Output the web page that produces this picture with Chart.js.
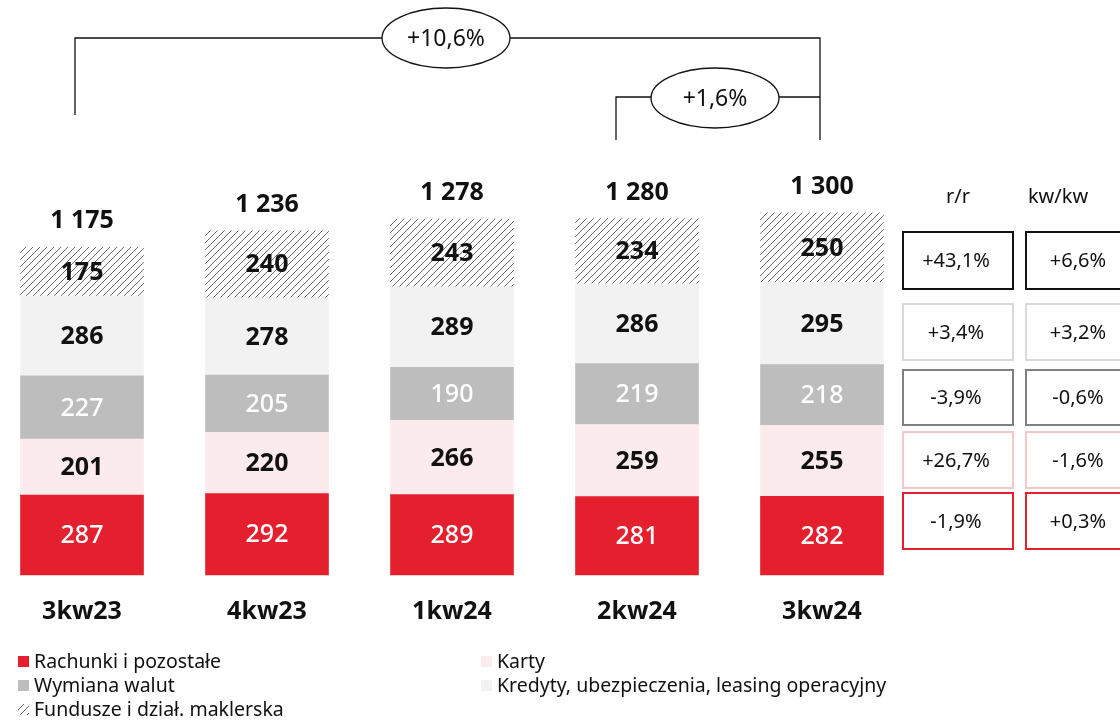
<!DOCTYPE html>
<html>
<head>
<meta charset="utf-8">
<script src="https://cdn.jsdelivr.net/npm/chart.js@4.4.1/dist/chart.umd.min.js"></script>
<style>
  html, body { margin: 0; background: #fff; }
  #wrap { width: 1120px; height: 720px; }
</style>
</head>
<body>
<div id="wrap"><canvas id="myChart"></canvas></div>
<script>
const quarters = ['3kw23', '4kw23', '1kw24', '2kw24', '3kw24'];
const rachunki = [287, 292, 289, 281, 282];
const karty = [201, 220, 266, 259, 255];
const wymiana = [227, 205, 190, 219, 218];
const kredyty = [286, 278, 289, 286, 295];
const fundusze = [175, 240, 243, 234, 250];
const totals = ['1 175', '1 236', '1 278', '1 280', '1 300'];
const rrChange = ['+43,1%', '+3,4%', '-3,9%', '+26,7%', '-1,9%'];
const kwChange = ['+6,6%', '+3,2%', '-0,6%', '-1,6%', '+0,3%'];
const yearChange = '+10,6%';
const quarterChange = '+1,6%';

const RED = '#e4202f';
const PINK = '#fcebec';
const GREY = '#bdbdbd';
const LIGHT = '#f2f2f2';
const FONT = '"Noto Sans", "DejaVu Sans", sans-serif';

// hatch for the funds segment
function makeHatch() {
  const c = document.createElement('canvas');
  c.width = 7; c.height = 7;
  const g = c.getContext('2d');
  g.fillStyle = '#fff';
  g.fillRect(0, 0, 7, 7);
  g.strokeStyle = '#6a6a6a';
  g.lineWidth = 1;
  g.beginPath();
  g.moveTo(-1, 8); g.lineTo(8, -1);
  g.moveTo(-1, 1); g.lineTo(1, -1);
  g.moveTo(6, 8); g.lineTo(8, 6);
  g.stroke();
  return g.createPattern(c, 'repeat');
}
const hatch = makeHatch();

const ctx = document.getElementById('myChart');

const extras = {
  id: 'extras',
  afterDatasetsDraw(chart) {
    const c = chart.ctx;
    const xs = chart.scales.x;
    c.save();

    // values inside segments
    chart.data.datasets.forEach((ds, di) => {
      const meta = chart.getDatasetMeta(di);
      meta.data.forEach((bar, i) => {
        const white = di === 0 || di === 2;
        c.font = (white ? '500 ' : 'bold ') + '25px ' + FONT;
        c.fillStyle = white ? '#fff' : '#111';
        c.textAlign = 'center';
        c.textBaseline = 'middle';
        c.fillText(ds.data[i], bar.x, (bar.y + bar.base) / 2 + 1);
      });
    });

    // totals above bars
    const top = chart.getDatasetMeta(chart.data.datasets.length - 1);
    c.font = 'bold 25px ' + FONT;
    c.fillStyle = '#111';
    top.data.forEach((bar, i) => {
      c.fillText(totals[i], bar.x, bar.y - 26);
    });

    // brackets with growth ellipses
    c.strokeStyle = '#111';
    c.lineWidth = 1.3;
    const xL = xs.getPixelForValue(0) - 7;
    const xR = xs.getPixelForValue(4) - 2;
    const xM = xs.getPixelForValue(3) - 21;
    c.beginPath();
    c.moveTo(xL, 115); c.lineTo(xL, 38); c.lineTo(xR, 38); c.lineTo(xR, 140);
    c.moveTo(xM, 140); c.lineTo(xM, 97); c.lineTo(xR, 97);
    c.stroke();
    function bubble(x, y, txt) {
      c.beginPath();
      c.ellipse(x, y, 64, 30, 0, 0, Math.PI * 2);
      c.fillStyle = '#fff';
      c.fill();
      c.stroke();
      c.fillStyle = '#111';
      c.font = '23px ' + FONT;
      c.fillText(txt, x, y + 1);
    }
    bubble(446, 38, yearChange);
    bubble(715, 98, quarterChange);

    // change table on the right
    c.font = '20px ' + FONT;
    c.fillStyle = '#111';
    c.fillText('r/r', 958, 197);
    c.fillText('kw/kw', 1058, 197);
    const rows = [[232, 289], [304, 360], [370, 425], [432, 488], [493, 549]];
    const borders = ['#111', '#d9d9d9', '#808080', '#f7c6ca', RED];
    rows.forEach((r, i) => {
      c.strokeStyle = borders[i];
      c.lineWidth = 2;
      c.strokeRect(903, r[0], 110, r[1] - r[0]);
      c.strokeRect(1026, r[0], 110, r[1] - r[0]);
      c.fillStyle = '#111';
      c.fillText(rrChange[i], 956, (r[0] + r[1]) / 2 + 1);
      c.fillText(kwChange[i], 1078, (r[0] + r[1]) / 2 + 1);
    });

    // legend
    c.font = '19.5px ' + FONT;
    c.textAlign = 'left';
    const leg = [
      [18, 661, RED, 'Rachunki i pozostałe'],
      [18, 685, GREY, 'Wymiana walut'],
      [18, 709, hatch, 'Fundusze i dział. maklerska'],
      [481, 661, PINK, 'Karty'],
      [481, 685, LIGHT, 'Kredyty, ubezpieczenia, leasing operacyjny']
    ];
    leg.forEach(l => {
      c.fillStyle = l[2];
      c.fillRect(l[0], l[1] - 5, 11, 11);
      c.fillStyle = '#111';
      c.fillText(l[3], l[0] + 16, l[1] + 1);
    });

    c.restore();
  }
};

new Chart(ctx, {
  type: 'bar',
  data: {
    labels: quarters,
    datasets: [
      { label: 'Rachunki i pozostałe', data: rachunki, backgroundColor: RED },
      { label: 'Karty', data: karty, backgroundColor: PINK },
      { label: 'Wymiana walut', data: wymiana, backgroundColor: GREY },
      { label: 'Kredyty, ubezpieczenia, leasing operacyjny', data: kredyty, backgroundColor: LIGHT },
      { label: 'Fundusze i dział. maklerska', data: fundusze, backgroundColor: hatch }
    ]
  },
  options: {
    responsive: true,
    maintainAspectRatio: false,
    animation: false,
    layout: {
      padding: { left: 82, right: 298, top: 157, bottom: 71 }
    },
    datasets: {
      bar: { barThickness: 123, clip: false, borderWidth: 0 }
    },
    plugins: {
      legend: { display: false },
      tooltip: { enabled: false }
    },
    scales: {
      x: {
        stacked: true,
        offset: false,
        grid: { display: false, drawTicks: false },
        border: { display: false },
        ticks: {
          padding: 22,
          color: '#111',
          font: { family: FONT, size: 25, weight: 'bold' }
        }
      },
      y: {
        stacked: true,
        display: false,
        min: 0,
        max: 1500
      }
    }
  },
  plugins: [extras]
});
</script>
</body>
</html>
